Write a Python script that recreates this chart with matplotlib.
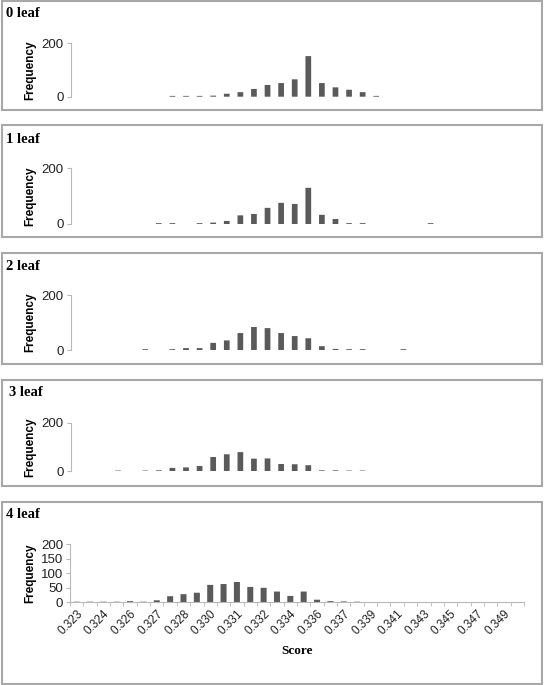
import matplotlib
matplotlib.use('Agg')
import matplotlib.pyplot as plt
from matplotlib.patches import Rectangle
import numpy as np

W, H = 544, 685

plt.rcParams.update({
    'font.family': ['Liberation Sans', 'DejaVu Sans'],
    'font.size': 9,
    'figure.dpi': 100, 'savefig.dpi': 100,
    'figure.facecolor': 'white', 'axes.facecolor': 'white',
})

BAR = '#5a5a5a'
AXIS = '#b8b8b8'
BOX = '#a8a8a8'

# ── 数据: 每个面板 34 个分箱 (第 0 个 = 0.323) ──
PANEL_TITLES = ['0 leaf', '1 leaf', '2 leaf', '3 leaf', '4 leaf']
SCORE_LABELS = ['0.323', '0.324', '0.326', '0.327', '0.328', '0.330', '0.331',
                '0.332', '0.334', '0.336', '0.337', '0.339', '0.341', '0.343',
                '0.345', '0.347', '0.349']

LEAF0 = [0, 0, 0, 0, 0, 0, 0, 3, 3, 3, 4, 11, 17, 29, 44, 51, 65,
         152, 51, 35, 26, 17, 3, 0, 0, 0, 0, 0, 0, 0, 0, 0, 0, 0]
LEAF1 = [0, 0, 0, 0, 0, 0, 3, 3, 0, 3, 5, 11, 31, 36, 58, 76, 72,
         130, 33, 18, 3, 3, 0, 0, 0, 0, 3, 0, 0, 0, 0, 0, 0, 0]
LEAF2 = [0, 0, 0, 0, 0, 3, 0, 3, 7, 7, 26, 35, 62, 84, 80, 62, 51,
         43, 14, 4, 3, 3, 0, 0, 3, 0, 0, 0, 0, 0, 0, 0, 0, 0]
LEAF3 = [0, 0, 0, 3, 0, 3, 4, 14, 16, 22, 59, 70, 79, 52, 53, 30, 29,
         25, 4, 4, 3, 3, 0, 0, 0, 0, 0, 0, 0, 0, 0, 0, 0, 0]
LEAF4 = [2, 2, 2, 2, 4, 2, 7, 21, 28, 33, 60, 63, 70, 53, 50, 37, 22,
         37, 9, 4, 3, 2, 0, 0, 0, 0, 0, 0, 0, 0, 0, 0, 0, 0]
COUNTS = [LEAF0, LEAF1, LEAF2, LEAF3, LEAF4]

# 布局 (像素, 自上而下)
AX_RECTS = [(70.5, 43.3, 462, 53.4), (70.5, 168.3, 462, 55.7),
            (70.5, 295.3, 462, 54.7), (70.5, 422.7, 462, 48.6),
            (70.0, 544.3, 454, 58.0)]
BOXES = [(1, 110), (125, 237), (253, 364), (380, 486), (501.5, 684)]
TITLE_POS = [(6, 17), (6, 143), (6, 270), (9, 396), (6, 518)]


def px_rect(left, top, w, h):
    return [left / W, 1 - (top + h) / H, w / W, h / H]


fig = plt.figure(figsize=(W / 100, H / 100))

for i, (counts, title) in enumerate(zip(COUNTS, PANEL_TITLES)):
    top, bot = BOXES[i]
    fig.patches.append(Rectangle((1.5 / W, 1 - bot / H), 540.5 / W, (bot - top) / H,
                                 transform=fig.transFigure, fill=False,
                                 edgecolor=BOX, linewidth=1.5))
    tx, ty = TITLE_POS[i]
    fig.text(tx / W, 1 - ty / H, title, family='Liberation Serif', fontweight='bold',
             fontsize=10.5, ha='left', va='baseline')

    l, t, w, h = AX_RECTS[i]
    ax = fig.add_axes(px_rect(l, t, w, h))
    x = np.arange(len(counts))
    last = i == len(COUNTS) - 1
    bars = ax.bar(x, counts, 0.45 if last else 0.42, color=BAR, linewidth=0)
    for b in bars:
        b.set_snap(False)
    ax.set_xlim(-0.5, len(counts) - 0.5)
    ax.set_ylim(0, 200)
    for s in ['top', 'right']:
        ax.spines[s].set_visible(False)
    ax.spines['left'].set_color(AXIS)
    ax.spines['left'].set_linewidth(0.8)
    ax.tick_params(axis='y', direction='out', length=3, color=AXIS,
                   labelcolor='#222222', labelsize=9.5, pad=2)
    fig.text(30 / W, 1 - (t + h / 2) / H, 'Frequency', rotation=90, fontweight='bold',
             fontsize=8.5, ha='center', va='center')

    if last:
        ax.set_yticks([0, 50, 100, 150, 200])
        ax.spines['bottom'].set_color(AXIS)
        ax.spines['bottom'].set_linewidth(0.8)
        ax.set_xticks(x[::2])
        ax.set_xticklabels(SCORE_LABELS, rotation=45, ha='right',
                           rotation_mode='anchor', fontsize=8.5, color='#222222')
        ax.set_xticks(np.arange(-0.5, len(counts), 1), minor=True)
        ax.tick_params(axis='x', which='major', length=0, pad=4)
        ax.tick_params(axis='x', which='minor', length=3, color=AXIS)
        fig.text(297 / W, 1 - 651 / H, 'Score', family='Liberation Serif',
                 fontweight='bold', fontsize=9.5, ha='center', va='center')
    else:
        ax.set_yticks([0, 200])
        ax.spines['bottom'].set_visible(False)
        ax.set_xticks([])

fig.savefig('out.png', facecolor='white')
